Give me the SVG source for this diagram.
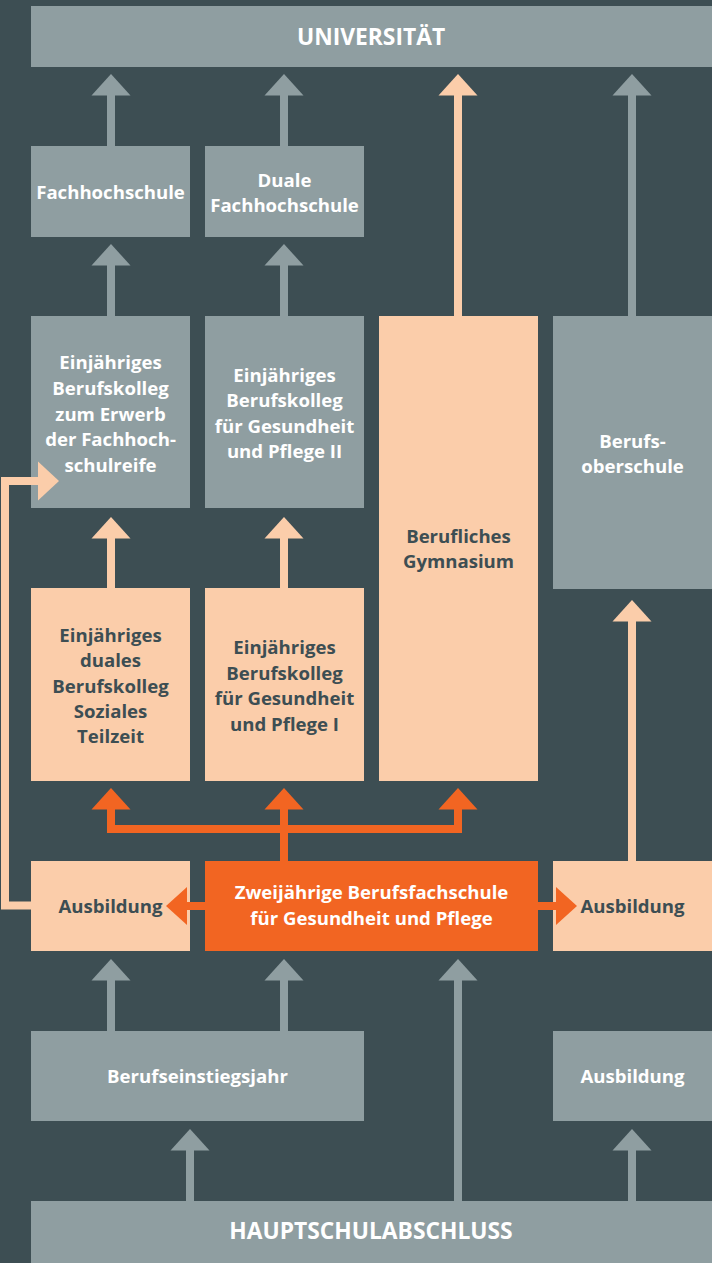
<svg xmlns="http://www.w3.org/2000/svg" xmlns:xlink="http://www.w3.org/1999/xlink" width="712" height="1263" viewBox="0 0 712 1263">
<style>
.bg{fill:#3d4e53}
.gray{fill:#8f9ea1}
.peach{fill:#fbcdaa}
.orange{fill:#f26522}
text{font-family:"Open Sans","Liberation Sans",sans-serif;font-weight:700;font-size:18.6px;text-anchor:middle}
.tw{fill:#ffffff}
.td{fill:#3d4e53}
.big{font-size:22.8px}
.sg{stroke:#8f9ea1;stroke-width:8;fill:none}
.sp{stroke:#fbcdaa;stroke-width:8;fill:none}
.so{stroke:#f26522;stroke-width:8;fill:none}
.hg{fill:#8f9ea1}
.hp{fill:#fbcdaa}
.ho{fill:#f26522}
</style>
<defs>
<polygon id="up" points="0,0 19.5,21.5 -19.5,21.5"/>
</defs>
<rect class="bg" x="0" y="0" width="712" height="1263"/>

<g id="universitaet"><rect class="gray" x="31" y="6" width="681" height="61"/><text class="tw big" x="371" y="45">UNIVERSITÄT</text></g>
<g id="fachhochschule"><rect class="gray" x="31" y="146" width="159" height="91"/><text class="tw" x="110.5" y="199">Fachhochschule</text></g>
<g id="duale-fh"><rect class="gray" x="205" y="146" width="159" height="91"/><text class="tw" x="284.5" y="187">Duale</text><text class="tw" x="284.5" y="212">Fachhochschule</text></g>

<g id="bk-fhr"><rect class="gray" x="31" y="316" width="159" height="192"/>
<text class="tw" x="110.5" y="369">Einjähriges</text><text class="tw" x="110.5" y="395">Berufskolleg</text><text class="tw" x="110.5" y="421">zum Erwerb</text><text class="tw" x="110.5" y="446">der Fachhoch-</text><text class="tw" x="110.5" y="472">schulreife</text></g>
<g id="bk-gp2"><rect class="gray" x="205" y="316" width="159" height="192"/>
<text class="tw" x="284.5" y="382">Einjähriges</text><text class="tw" x="284.5" y="407">Berufskolleg</text><text class="tw" x="284.5" y="433">für Gesundheit</text><text class="tw" x="284.5" y="458">und Pflege II</text></g>
<g id="gymnasium"><rect class="peach" x="379" y="316" width="159" height="465"/>
<text class="td" x="458.5" y="543">Berufliches</text><text class="td" x="458.5" y="568">Gymnasium</text></g>
<g id="bos"><rect class="gray" x="553" y="316" width="159" height="273"/>
<text class="tw" x="632.5" y="448">Berufs-</text><text class="tw" x="632.5" y="473">oberschule</text></g>

<g id="bk-dual"><rect class="peach" x="31" y="588" width="159" height="193"/>
<text class="td" x="110.5" y="642">Einjähriges</text><text class="td" x="110.5" y="667">duales</text><text class="td" x="110.5" y="693">Berufskolleg</text><text class="td" x="110.5" y="718">Soziales</text><text class="td" x="110.5" y="743">Teilzeit</text></g>
<g id="bk-gp1"><rect class="peach" x="205" y="588" width="159" height="193"/>
<text class="td" x="284.5" y="654">Einjähriges</text><text class="td" x="284.5" y="680">Berufskolleg</text><text class="td" x="284.5" y="705">für Gesundheit</text><text class="td" x="284.5" y="731">und Pflege I</text></g>

<g id="ausbildung-left"><rect class="peach" x="31" y="861" width="159" height="90"/><text class="td" x="110.5" y="913">Ausbildung</text></g>
<g id="bfs"><rect class="orange" x="205" y="861" width="333" height="90"/>
<text class="tw" x="371.5" y="899">Zweijährige Berufsfachschule</text><text class="tw" x="371.5" y="925">für Gesundheit und Pflege</text></g>
<g id="ausbildung-right"><rect class="peach" x="553" y="861" width="159" height="90"/><text class="td" x="632.5" y="913">Ausbildung</text></g>

<g id="bej"><rect class="gray" x="31" y="1031" width="333" height="90"/><text class="tw" x="197.5" y="1083">Berufseinstiegsjahr</text></g>
<g id="ausbildung-gray"><rect class="gray" x="553" y="1031" width="159" height="90"/><text class="tw" x="632.5" y="1083">Ausbildung</text></g>

<g id="hauptschulabschluss"><rect class="gray" x="31" y="1201" width="681" height="62"/><text class="tw big" x="371" y="1239">HAUPTSCHULABSCHLUSS</text></g>

<g id="connectors">
<!-- gray -->
<path class="sg" d="M111 95V146M284 95V146M632 95V316M111 265V316M284 265V316M111 979V1031M284 979V1031M458 979V1201M190 1149V1201M632 1149V1201"/>
<use href="#up" class="hg" x="111" y="74"/>
<use href="#up" class="hg" x="284" y="74"/>
<use href="#up" class="hg" x="632" y="74"/>
<use href="#up" class="hg" x="111" y="244"/>
<use href="#up" class="hg" x="284" y="244"/>
<use href="#up" class="hg" x="111" y="959"/>
<use href="#up" class="hg" x="284" y="959"/>
<use href="#up" class="hg" x="458" y="959"/>
<use href="#up" class="hg" x="190" y="1129"/>
<use href="#up" class="hg" x="632" y="1129"/>
<!-- peach -->
<path class="sp" d="M458 95V316M111 537V588M284 537V588M632 620V861"/>
<use href="#up" class="hp" x="458" y="74"/>
<use href="#up" class="hp" x="111" y="517"/>
<use href="#up" class="hp" x="284" y="517"/>
<use href="#up" class="hp" x="632" y="600"/>
<path class="sp" d="M31 905.5H5V481H40"/>
<polygon class="hp" points="38,461.5 59,481 38,500.5"/>
<!-- orange -->
<path class="so" d="M111 808V829H458V808M284 808V861"/>
<use href="#up" class="ho" x="111" y="788"/>
<use href="#up" class="ho" x="284" y="788"/>
<use href="#up" class="ho" x="458" y="788"/>
<path class="so" d="M205 906H186M538 906H558"/>
<polygon class="ho" points="187,887 166,906 187,925"/>
<polygon class="ho" points="556,887 577,906 556,925"/>
</g>
</svg>
